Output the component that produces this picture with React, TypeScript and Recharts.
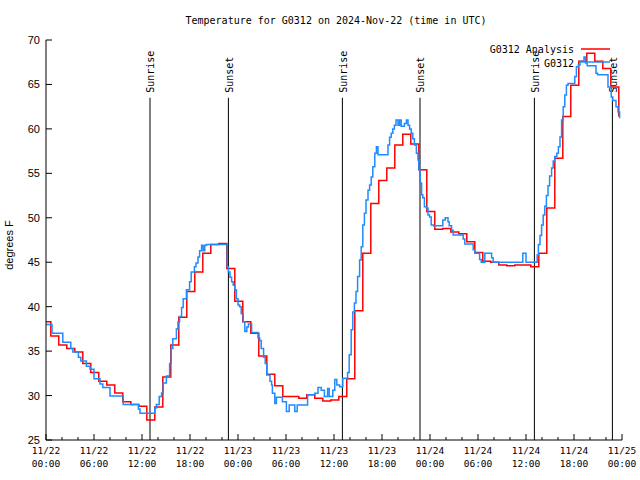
import React from 'react';
import { LineChart, Line, XAxis, YAxis, ReferenceLine } from 'recharts';

const DAY_LABELS = ['11/22', '11/23', '11/24', '11/25'];
const X_TICKS = [0, 2, 4, 6, 8, 10, 12, 14, 16, 18, 20, 22, 24, 26, 28, 30, 32, 34, 36, 38, 40, 42, 44, 46, 48, 50, 52, 54, 56, 58, 60, 62, 64, 66, 68, 70, 72];
const Y_TICKS = [25, 30, 35, 40, 45, 50, 55, 60, 65, 70];

// hours after 11/22 00:00 UTC
const SUN_EVENTS = [
  { name: 'Sunrise', hour: 13.0 },
  { name: 'Sunset', hour: 22.8 },
  { name: 'Sunrise', hour: 37.05 },
  { name: 'Sunset', hour: 46.75 },
  { name: 'Sunrise', hour: 61.05 },
  { name: 'Sunset', hour: 70.8 },
];
const SUN_LINE_TOP = 63.5;

// G0312 Analysis (hourly)
const analysisHours = [
  0, 0.6, 1.6, 2.6, 3.6, 4.6, 5.6, 6.6, 7.6, 8.6, 9.6, 10.6, 11.6, 12.6, 13.6, 14.6, 15.6, 16.6, 17.6, 18.6, 19.6,
  20.6, 21.6, 22.6, 23.6, 24.6, 25.6, 26.6, 27.6, 28.6, 29.6, 30.6, 31.6, 32.6, 33.6, 34.6, 35.6, 36.6, 37.6, 38.6,
  39.6, 40.6, 41.6, 42.6, 43.6, 44.6, 45.6, 46.6, 47.6, 48.6, 49.6, 50.6, 51.6, 52.6, 53.6, 54.6, 55.6, 56.6, 57.6,
  58.6, 59.6, 60.6, 61.6, 62.6, 63.6, 64.6, 65.6, 66.6, 67.6, 68.6, 69.6, 70.6, 71.6,
];
const analysisTemps = [
  38.3, 36.7, 35.7, 35.3, 34.9, 33.6, 32.6, 31.6, 31.2, 30.3, 29.3, 29.0, 28.8, 27.25, 28.7, 32.1, 35.7, 38.8, 41.7, 43.9, 46.0,
  47.0, 47.1, 44.3, 40.6, 38.3, 37.0, 34.45, 32.4, 31.1, 29.9, 29.9, 29.7, 30.1, 29.7, 29.4, 29.5, 29.9, 31.9, 39.55,
  46.0, 51.6, 54.2, 55.6, 58.2, 59.4, 58.3, 55.4, 50.7, 48.7, 48.8, 48.4, 48.2, 47.3, 46.1, 45.1, 45.0, 44.7, 44.6,
  44.7, 44.7, 44.5, 46.0, 51.1, 56.7, 61.4, 64.9, 67.6, 68.5, 67.6, 66.8, 64.7, 61.4,
];

// G0312 observations
const obsHours = [
  0, 0.75, 2.1, 3.1, 3.35, 4.05, 4.35, 5.05, 5.5, 6.0, 6.75, 7.1, 8.0, 9.65, 11.55, 11.75, 13.6, 13.8, 14.15, 14.45,
  14.65, 15.05, 15.45, 15.65, 15.85, 16.3, 16.5, 16.7, 16.95, 17.15, 17.55, 17.95, 18.15, 18.55, 18.75, 19.0, 19.2,
  19.45, 19.65, 19.85, 20.05, 22.65, 22.8, 23.0, 23.2, 23.4, 23.6, 23.8, 24.0, 24.2, 24.4, 24.65, 24.85, 25.1, 25.3,
  25.7, 26.5, 26.7, 26.9, 27.2, 27.4, 27.6, 28.0, 28.2, 28.3, 28.6, 28.8, 29.55, 30.05, 30.4, 31.1, 31.4, 32.7, 33.6,
  34.0, 34.4, 34.8, 35.2, 35.4, 35.85, 36.1, 36.35, 36.7, 37.1, 37.7, 37.9, 38.15, 38.35, 38.55, 38.75, 38.95, 39.2,
  39.4, 39.6, 39.8, 40.0, 40.25, 40.45, 40.65, 40.85, 41.1, 41.3, 41.5, 42.75, 42.95, 43.15, 43.35, 43.55, 43.75,
  44.0, 44.2, 44.4, 44.8, 45.05, 45.25, 45.45, 45.65, 45.85, 46.05, 46.3, 46.5, 46.6, 46.75, 46.95, 47.1, 47.3,
  47.55, 47.75, 47.95, 48.15, 48.45, 49.6, 49.9, 50.25, 50.4, 50.7, 50.9, 52.15, 52.35, 53.4, 53.6, 54.2, 54.4,
  54.85, 55.7, 55.9, 59.6, 60.0, 61.4, 61.55, 61.75, 61.95, 62.15, 62.35, 62.55, 62.75, 62.95, 63.2, 63.4, 63.6,
  63.85, 64.05, 64.25, 64.45, 64.65, 64.85, 65.05, 65.25, 66.1, 66.3, 66.55, 66.75, 67.25, 67.45, 67.65, 68.75,
  68.95, 70.25, 70.65, 70.85, 71.25, 71.5, 71.7,
];
const obsTemps = [
  38.0, 37.0, 36.0, 35.3, 34.9, 34.3, 33.9, 33.3, 32.95, 31.9, 31.3, 30.9, 29.95, 29.0, 28.5, 28.0, 28.6, 29.0, 29.9, 30.3,
  31.4, 32.2, 33.6, 35.3, 36.4, 37.5, 38.3, 38.9, 39.9, 40.9, 41.9, 42.8, 43.9, 44.5, 44.9, 45.6, 46.3,
  46.9, 46.3, 46.9, 47.0, 44.5, 43.9, 43.3, 42.8, 42.4, 41.9, 40.9, 40.2, 40.0, 39.2, 38.3, 37.2, 37.7, 38.05,
  37.1, 36.5, 36.2, 35.3, 34.3, 33.6, 32.3, 31.6, 31.2, 30.25, 29.1, 29.8, 29.3, 28.2, 28.95, 28.2, 28.95, 30.1, 30.25,
  30.9, 30.6, 29.9, 30.8, 29.9, 30.6, 31.8, 31.2, 31.0, 31.95, 32.6, 34.6, 37.4, 39.4, 40.4, 41.7, 43.4, 45.25,
  46.75, 49.2, 50.5, 52.0, 53.1, 53.7, 54.6, 55.75, 57.25, 58.0, 57.1, 58.2, 59.05, 59.5, 60.0, 60.4, 61.0,
  60.4, 61.0, 60.3, 60.6, 61.0, 60.4, 60.0, 59.5, 58.9, 58.2, 57.25, 56.5, 55.4, 53.9, 52.6, 52.25, 51.25,
  51.1, 50.3, 50.1, 49.2, 49.1, 49.75, 50.0, 49.55, 49.1, 48.6, 48.05, 47.6, 47.05, 46.4, 46.0, 45.3, 45.0,
  46.0, 45.5, 45.0, 46.0, 45.0, 45.8, 47.0, 48.0, 49.2, 50.3, 51.3, 52.5, 53.6, 54.7, 55.6, 56.4, 56.9,
  57.25, 58.0, 59.1, 61.0, 62.5, 63.8, 64.9, 65.1, 65.9, 67.0, 67.2, 67.6, 68.1, 67.4, 67.1, 66.25,
  66.1, 64.7, 63.6, 63.2, 62.5, 61.9, 61.2,
];

const analysisData = analysisHours.map((h, i) => ({ h, temp: analysisTemps[i] }));
const obsData = obsHours.map((h, i) => ({ h, temp: obsTemps[i] }));

const MONO = '"DejaVu Sans Mono", monospace';
const SANS = '"Liberation Sans", Arial, sans-serif';

function pad2(n: number) {
  return n < 10 ? `0${n}` : `${n}`;
}

function BottomTick({ x, y, payload }: any) {
  const h = payload.value;
  const major = h % 6 === 0;
  return (
    <g>
      <line x1={x} x2={x} y1={y} y2={y - (major ? 6 : 3)} stroke="#000" />
      {major && (
        <text x={x} y={y + 14} textAnchor="middle" fontFamily={MONO} fontSize={9.5} fill="#000">
          {DAY_LABELS[Math.floor(h / 24)]}
        </text>
      )}
      {major && (
        <text x={x} y={y + 27} textAnchor="middle" fontFamily={MONO} fontSize={9.5} fill="#000">
          {`${pad2(h % 24)}:00`}
        </text>
      )}
    </g>
  );
}

function TopTick({ x, y, payload }: any) {
  const major = payload.value % 6 === 0;
  return <line x1={x} x2={x} y1={y} y2={y + (major ? 6 : 3)} stroke="#000" />;
}

function LeftTick({ x, y, payload }: any) {
  return (
    <g>
      <line x1={x} x2={x + 6} y1={y} y2={y} stroke="#000" />
      <text x={x - 6} y={y} dy={4} textAnchor="end" fontFamily={SANS} fontSize={11} fill="#000">
        {payload.value}
      </text>
    </g>
  );
}

function RightTick({ x, y }: any) {
  return <line x1={x} x2={x - 6} y1={y} y2={y} stroke="#000" />;
}

function sunLabel(name: string) {
  return (props: any) => {
    const vb = props.viewBox || {};
    const lx = vb.x + 1;
    const ly = vb.y - 5;
    return (
      <text
        x={lx}
        y={ly}
        transform={`rotate(-90, ${lx}, ${ly})`}
        textAnchor="start"
        dominantBaseline="central"
        fontFamily={MONO}
        fontSize={10}
        fill="#000"
      >
        {name}
      </text>
    );
  };
}

export default function App() {
  return (
    <div style={{ position: 'absolute', left: 0, top: 0, width: 640, height: 480, background: '#fff' }}>
      <LineChart width={640} height={480} margin={{ top: 40, right: 18, bottom: 0, left: 0 }}>
        <XAxis
          xAxisId="b"
          type="number"
          dataKey="h"
          domain={[0, 72]}
          ticks={X_TICKS}
          interval={0}
          tickSize={0}
          tickMargin={0}
          height={40}
          allowDataOverflow
          axisLine={{ stroke: '#000' }}
          tick={BottomTick}
        />
        <XAxis
          xAxisId="t"
          orientation="top"
          type="number"
          dataKey="h"
          domain={[0, 72]}
          ticks={X_TICKS}
          interval={0}
          tickSize={0}
          tickMargin={0}
          height={0}
          allowDataOverflow
          axisLine={{ stroke: '#000' }}
          tick={TopTick}
        />
        <YAxis
          yAxisId="l"
          type="number"
          domain={[25, 70]}
          ticks={Y_TICKS}
          interval={0}
          tickSize={0}
          tickMargin={0}
          width={46}
          allowDataOverflow
          axisLine={{ stroke: '#000' }}
          tick={LeftTick}
        />
        <YAxis
          yAxisId="r"
          orientation="right"
          type="number"
          domain={[25, 70]}
          ticks={Y_TICKS}
          interval={0}
          tickSize={0}
          tickMargin={0}
          width={0}
          allowDataOverflow
          axisLine={{ stroke: '#000' }}
          tick={RightTick}
        />
        {SUN_EVENTS.map((ev, i) => (
          <ReferenceLine
            key={i}
            xAxisId="b"
            yAxisId="l"
            segment={[
              { x: ev.hour, y: SUN_LINE_TOP },
              { x: ev.hour, y: 25 },
            ]}
            stroke="#000"
            strokeWidth={1}
            label={sunLabel(ev.name)}
          />
        ))}
        <Line
          xAxisId="b"
          yAxisId="l"
          data={analysisData}
          dataKey="temp"
          type="stepAfter"
          stroke="#ff0000"
          strokeWidth={1.5}
          dot={false}
          isAnimationActive={false}
        />
        <Line
          xAxisId="b"
          yAxisId="l"
          data={obsData}
          dataKey="temp"
          type="stepAfter"
          stroke="#1e8cff"
          strokeWidth={1.5}
          dot={false}
          isAnimationActive={false}
        />
      </LineChart>
      <svg width={640} height={480} style={{ position: 'absolute', left: 0, top: 0, pointerEvents: 'none' }}>
        <text x={336} y={24} textAnchor="middle" fontFamily={MONO} fontSize={10} fill="#000">
          Temperature for G0312 on 2024-Nov-22 (time in UTC)
        </text>
        <text
          x={13}
          y={245}
          transform="rotate(-90, 13, 245)"
          textAnchor="middle"
          fontFamily={SANS}
          fontSize={11}
          fill="#000"
        >
          degrees F
        </text>
        <text x={574} y={53} textAnchor="end" fontFamily={MONO} fontSize={10} fill="#000">
          G0312 Analysis
        </text>
        <line x1={581} x2={610} y1={49} y2={49} stroke="#ff0000" strokeWidth={1.5} />
        <text x={574} y={67} textAnchor="end" fontFamily={MONO} fontSize={10} fill="#000">
          G0312
        </text>
        <line x1={581} x2={610} y1={62} y2={62} stroke="#1e8cff" strokeWidth={1.5} />
      </svg>
    </div>
  );
}
